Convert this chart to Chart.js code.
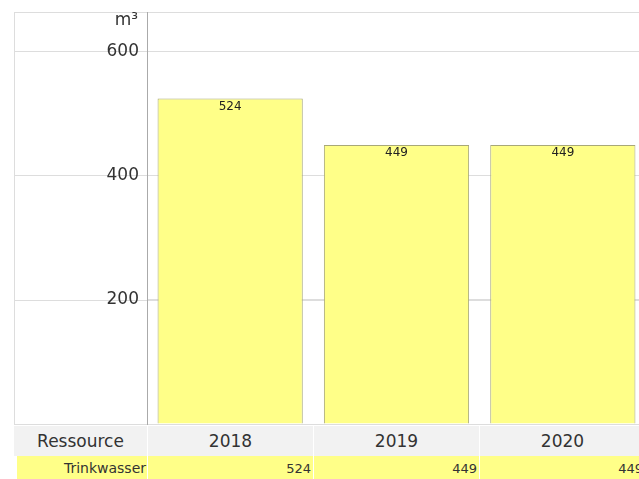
<!DOCTYPE html>
<html>
<head>
    <meta charset="UTF-8">
    <title>Ressourcen</title>
    <script src="https://cdn.jsdelivr.net/npm/chart.js@4/dist/chart.umd.min.js"></script>
    <style type="text/css">
        body { margin: 0; overflow: hidden; background: #fff; font-family: "DejaVu Sans", Verdana, sans-serif; }
        #wrap { width: 660px; }
        #chartBox { position: relative; width: 646px; height: 426px; }
        table { border-collapse: separate; border-spacing: 0; margin-left: 14px; table-layout: fixed; }
        td { padding: 0; white-space: nowrap; overflow: hidden; }
        tr.head td { background: #f2f2f2; height: 30px; font-size: 17px; color: #333; text-align: center; border-left: 1px solid #fff; }
        tr.head td:first-child { border-left: none; }
        tr.res td { background: #ffff88; height: 24px; font-size: 13px; color: #333; text-align: right; padding-right: 2px; border-left: 1px solid #fff; }
        tr.res td:first-child { border-left: 3px solid #fff; font-size: 14px; padding-right: 1px; }
    </style>
</head>
<body>
<div id="wrap">
    <div id="chartBox"><canvas id="ressChart"></canvas></div>
    <table id="tbl">
        <colgroup id="cols"></colgroup>
        <tr class="head" id="headRow"><td>Ressource</td></tr>
        <tr class="res" id="resRow"><td>Trinkwasser</td></tr>
    </table>
</div>

<script>
    const years = ['2018', '2019', '2020'];
    const trinkwasser = [524, 449, 449];
    const yTicks = [0, 200, 400, 600];
    const yMax = 663;
    const unit = 'm³';

    // table below the chart
    const cols = document.getElementById('cols');
    [133].concat(years.map(() => 166)).forEach(w => {
        const c = document.createElement('col');
        c.style.width = w + 'px';
        cols.appendChild(c);
    });
    years.forEach((y, i) => {
        const h = document.createElement('td');
        h.textContent = y;
        document.getElementById('headRow').appendChild(h);
        const v = document.createElement('td');
        v.textContent = trinkwasser[i];
        document.getElementById('resRow').appendChild(v);
    });

    // grid lines run on into the label area, plus the unit text
    const frame = {
        id: 'frame',
        beforeDraw(chart) {
            const ctx = chart.ctx;
            const y = chart.scales.y;
            const left = 14;
            ctx.save();
            ctx.strokeStyle = '#dddddd';
            ctx.lineWidth = 1;
            y.ticks.forEach(t => {
                const py = Math.round(y.getPixelForValue(t.value)) + 0.5;
                ctx.beginPath();
                ctx.moveTo(left, py);
                ctx.lineTo(chart.width, py);
                ctx.stroke();
            });
            ctx.beginPath();
            ctx.moveTo(left + 0.5, y.getPixelForValue(yMax));
            ctx.lineTo(left + 0.5, y.getPixelForValue(0));
            ctx.stroke();
            ctx.restore();
        },
        afterDatasetsDraw(chart) {
            const ctx = chart.ctx;
            ctx.save();
            ctx.fillStyle = '#222';
            ctx.font = '12px "DejaVu Sans", Verdana, sans-serif';
            ctx.textAlign = 'center';
            ctx.textBaseline = 'top';
            chart.getDatasetMeta(0).data.forEach((bar, i) => {
                ctx.fillText(trinkwasser[i], bar.x, bar.y + 2);
            });
            ctx.fillStyle = '#333';
            ctx.font = '17px "DejaVu Sans", Verdana, sans-serif';
            ctx.textAlign = 'right';
            ctx.textBaseline = 'middle';
            ctx.fillText(unit, chart.chartArea.left - 9, chart.chartArea.top + 9);
            ctx.restore();
        }
    };

    new Chart(document.getElementById('ressChart'), {
        type: 'bar',
        data: {
            labels: years,
            datasets: [{
                label: 'Trinkwasser',
                data: trinkwasser,
                backgroundColor: '#ffff88',
                borderColor: '#a8a878',
                borderWidth: 1,
                categoryPercentage: 1,
                barPercentage: 0.873
            }]
        },
        options: {
            responsive: true,
            maintainAspectRatio: false,
            animation: false,
            layout: { padding: { top: 12, left: 0, right: 0, bottom: 2 } },
            plugins: { legend: { display: false }, tooltip: { enabled: false } },
            scales: {
                x: { display: false },
                y: {
                    min: 0,
                    max: yMax,
                    afterBuildTicks: s => { s.ticks = yTicks.concat([yMax]).map(v => ({ value: v })); },
                    afterFit: s => { s.width = 147; s.paddingTop = 0; s.paddingBottom = 0; },
                    ticks: {
                        color: '#333',
                        padding: 8,
                        font: { family: '"DejaVu Sans", Verdana, sans-serif', size: 17 },
                        callback: v => (v === 0 || v === yMax) ? '' : v
                    },
                    grid: { color: '#dddddd', drawTicks: false },
                    border: { display: true, color: '#aaaaaa' }
                }
            }
        },
        plugins: [frame]
    });
</script>
</body>
</html>
